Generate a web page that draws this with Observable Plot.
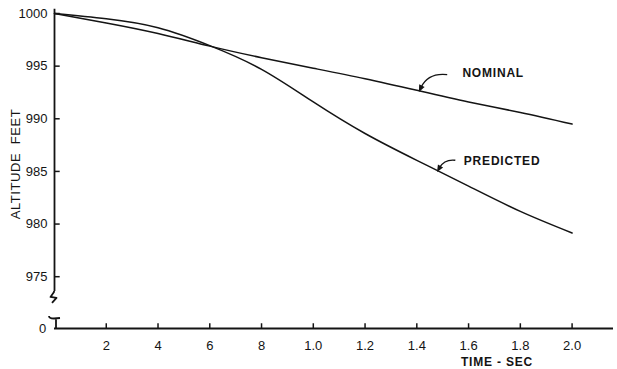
<!DOCTYPE html>
<html><head><meta charset="utf-8">
<script src="https://cdn.jsdelivr.net/npm/d3@7"></script>
<script src="https://cdn.jsdelivr.net/npm/@observablehq/plot@0.6"></script>
<style>html,body{margin:0;padding:0;background:#fff}svg{display:block}</style>
</head><body><div id="chart"></div>
<script>
// ---- data ----
const time      = [0, 0.2, 0.4, 0.6, 0.8, 1.0, 1.2, 1.4, 1.6, 1.8, 2.0];
const nominal   = [1000, 999.1, 998.1, 996.9, 995.8, 994.8, 993.8, 992.7, 991.6, 990.6, 989.5];
const predicted = [1000, 999.5, 998.65, 996.95, 994.7, 991.6, 988.6, 986.05, 983.6, 981.2, 979.15];

const xTicks      = [0.2, 0.4, 0.6, 0.8, 1.0, 1.2, 1.4, 1.6, 1.8, 2.0];
const xTickLabels = ["2", "4", "6", "8", "1.0", "1.2", "1.4", "1.6", "1.8", "2.0"];
const yTicks      = [975, 980, 985, 990, 995, 1000];
const yBreakLabel = "0";

const seriesNames = ["NOMINAL", "PREDICTED"];
const labelTime   = [1.41, 1.48];     // where the label arrows touch the curves
const labelAlt    = [992.5, 984.9];

const yTitle = "ALTITUDE  FEET";
const xTitle = "TIME - SEC";

// ---- build ----
const yBase = 970.08;            // broken axis: value drawn at the "0" position
const xMax = 2.16;
const ink = "#141414";
const font = "'Liberation Sans', Arial, sans-serif";

const rows = [];
time.forEach((t, i) => {
  rows.push({series: seriesNames[0], t, v: nominal[i]});
  rows.push({series: seriesNames[1], t, v: predicted[i]});
});
const labels = seriesNames.map((s, i) => ({series: s, t: labelTime[i], v: labelAlt[i]}));
const labelOffset = [[43, -19.8], [26.3, -11.2]];

const chart = Plot.plot({
  width: 617, height: 369,
  marginLeft: 54, marginRight: 4, marginTop: 13, marginBottom: 41,
  x: {domain: [0, xMax]},
  y: {domain: [yBase, 1000]},
  style: {fontFamily: font, fontSize: "13px", color: ink, background: "#fff"},
  marks: [
    Plot.axisX(xTicks, {tickSize: 0, tickPadding: 12, label: null, fontSize: 13,
      tickFormat: d => xTickLabels[xTicks.indexOf(d)]}),
    Plot.axisY(yTicks, {tickSize: 0, tickPadding: 7, label: null, fontSize: 13, tickFormat: d => String(d)}),
    // axis lines
    Plot.ruleY([yBase], {stroke: ink, strokeWidth: 1.8}),
    Plot.ruleX([0], {y1: 973.6, y2: 1000.4, stroke: ink, strokeWidth: 1.8}),
    // inward tick marks
    Plot.ruleX(xTicks, {y1: yBase, y2: yBase + 0.45, stroke: ink, strokeWidth: 1.5}),
    Plot.ruleY(yTicks, {x1: 0, x2: 0.022, stroke: ink, strokeWidth: 1.5}),
    // broken-axis zero label
    Plot.text([yBreakLabel], {x: 0, y: yBase, dx: -12, textAnchor: "middle", fontSize: 13}),
    // curves
    Plot.line(rows, {x: "t", y: "v", z: "series", curve: "natural", stroke: ink, strokeWidth: 1.5}),
    // series labels
    ...labels.map((d, i) => Plot.text([d], {x: "t", y: "v", text: "series", textAnchor: "start",
      fontWeight: "bold", fontSize: 12, dx: labelOffset[i][0], dy: labelOffset[i][1]}))
  ]
});
document.getElementById("chart").append(chart);

// ---- decorations in pixel space (titles, arrows, axis break) ----
const sx = chart.scale("x"), sy = chart.scale("y");
const svg = d3.select(chart);
svg.selectAll("text").filter(function() { return this.textContent === seriesNames[0] || this.textContent === seriesNames[1]; })
  .attr("letter-spacing", "0.8");
svg.append("text").text(yTitle)
  .attr("transform", "translate(15,164) rotate(-90)")
  .attr("text-anchor", "middle").attr("dy", "0.35em")
  .attr("font-family", font).attr("font-size", 13).attr("letter-spacing", "0.6").attr("fill", ink);
svg.append("text").text(xTitle)
  .attr("x", 497).attr("y", 362).attr("dy", "0.35em")
  .attr("text-anchor", "middle")
  .attr("font-family", font).attr("font-size", 12).attr("font-weight", "bold").attr("letter-spacing", "0.8").attr("fill", ink);

const arrowShape = [
  {tail: [28.3, -17.3], ctrl: [9.2, -19.4]},
  {tail: [18.3, -11.7], ctrl: [7.5, -13]}
];
labels.forEach((d, i) => {
  const px = sx.apply(d.t), py = sy.apply(d.v);
  const a = arrowShape[i];
  const tx = px + a.tail[0], ty = py + a.tail[1];
  const cx = px + a.ctrl[0], cy = py + a.ctrl[1];
  const ang = Math.atan2(py - cy, px - cx);
  const L = 7, W = 3;
  const bx = px - L * Math.cos(ang), by = py - L * Math.sin(ang);
  svg.append("path")
    .attr("d", `M${tx},${ty}Q${cx},${cy} ${bx + 2*Math.cos(ang)},${by + 2*Math.sin(ang)}`)
    .attr("fill", "none").attr("stroke", ink).attr("stroke-width", 1.4);
  svg.append("path")
    .attr("d", `M${px},${py}L${bx - W*Math.sin(ang)},${by + W*Math.cos(ang)}L${bx + W*Math.sin(ang)},${by - W*Math.cos(ang)}Z`)
    .attr("fill", ink);
});
// axis break marks
const ax = sx.apply(0), yTop = sy.apply(973.6), yb = sy.apply(yBase);
svg.append("path")
  .attr("d", `M${ax},${yTop}L${ax},${yTop+1}L${ax-3.5},${yTop+6}L${ax+2.5},${yTop+7}L${ax-2},${yTop+12}`)
  .attr("fill", "none").attr("stroke", ink).attr("stroke-width", 1.8).attr("stroke-linejoin", "round");
svg.append("path")
  .attr("d", `M${ax-5},${yb-12}Q${ax-5},${yb-9.5} ${ax},${yb-9.5}L${ax+6},${yb-10}M${ax+2},${yb-9.5}L${ax+2},${yb}`)
  .attr("fill", "none").attr("stroke", ink).attr("stroke-width", 1.8);
</script>
</body></html>
